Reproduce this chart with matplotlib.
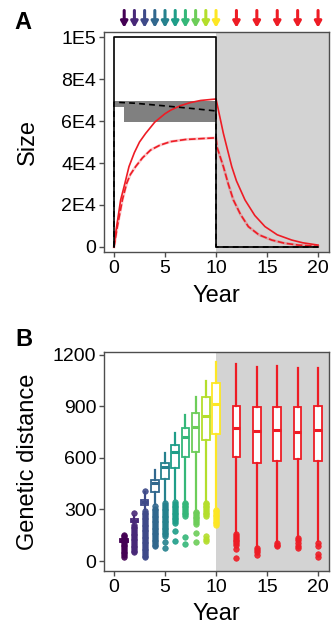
import matplotlib
matplotlib.use("Agg")
import matplotlib.pyplot as plt
import numpy as np

plt.rcParams['font.family'] = ['Liberation Sans', 'DejaVu Sans']

# ---------------- Panel A data ----------------
capacity_x = [0, 0, 10, 10, 20]
capacity_y = [0, 100000, 100000, 0, 0]

mean_x = [0, 0, 2, 5, 8, 10, 10, 20]
mean_y = [0, 69000, 68500, 67200, 65800, 64800, 0, 0]

band_x = [0.1, 1.0, 10.0]
band_lo = [66800, 59500, 59500]
band_hi = [69600, 69400, 69000]

red_solid_x = [0, 0.16, 0.65, 1.0, 1.47, 2.0, 2.5, 3.1, 4.0, 5.0, 5.56, 6.5, 7.5, 8.5, 10.0,
               10.72, 11.54, 12.0, 12.84, 13.8, 14.8, 16.0, 17.42, 18.5, 20.0]
red_solid_y = [0, 6500, 22400, 29000, 38300, 45000, 50000, 54100, 59500, 63500, 65200, 67300,
               68800, 69800, 70500,
               54100, 38300, 31500, 22400, 15000, 9700, 5800, 3300, 2000, 900]

red_dash_x = [0, 0.3, 0.82, 1.24, 1.6, 2.12, 2.8, 3.59, 4.5, 5.56, 7.0, 8.82, 10.0,
              10.1, 10.72, 11.2, 11.7, 12.4, 13.17, 14.2, 15.46, 16.7, 18.07, 20.0]
red_dash_y = [0, 9000, 22400, 30300, 34500, 38300, 42500, 46200, 48500, 50200, 51200, 51700, 52000,
              47500, 38300, 30000, 22400, 15500, 9700, 5800, 3300, 1800, 900, 300]

sample_years = [1, 2, 3, 4, 5, 6, 7, 8, 9, 10, 12, 14, 16, 18, 20]
viridis10 = ['#440154', '#482878', '#3E4A89', '#31688E', '#26828E',
             '#1F9E89', '#35B779', '#6DCD59', '#B4DE2C', '#FDE725']
red = '#EE1C25'
sample_colors = viridis10 + [red] * 5

# ---------------- Panel B data ----------------
box_med = [118, 235, 343, 456, 546, 637, 724, 779, 845, 913, 773, 757, 763, 751, 763]
box_q1 = [110, 225, 328, 404, 476, 540, 604, 637, 705, 740, 604, 573, 584, 594, 584]
box_q3 = [126, 245, 358, 472, 573, 676, 773, 860, 953, 1039, 903, 895, 899, 899, 905]
box_lo = [95, 205, 305, 330, 350, 360, 355, 300, 336, 313, 165, 83, 112, 142, 116]
box_hi = [140, 265, 400, 530, 627, 747, 850, 957, 1049, 1161, 1147, 1128, 1136, 1124, 1124]
box_out = [
    [25, 35, 45, 55, 65, 75, 85, 95, 105, 115, 125, 135, 145, 152],
    [50, 60, 70, 80, 90, 100, 110, 120, 130, 140, 150, 160, 170, 180, 190, 200, 210, 282],
    [22, 32, 42, 52, 62, 72, 82, 92, 102, 112, 122, 132, 142, 152, 162, 172, 182, 192, 202,
     212, 222, 232, 242, 252, 262, 272, 282, 292, 410],
    [85, 95, 105, 115, 125, 135, 145, 155, 165, 175, 185, 195, 205, 215, 225, 235, 245, 255,
     265, 275, 285, 295, 305, 318],
    [75, 112, 145, 155, 165, 175, 185, 195, 205, 215, 225, 235, 245, 255, 265, 275, 285, 295,
     305, 315, 325, 338],
    [118, 172, 222, 232, 242, 252, 262, 272, 282, 292, 302, 312, 322, 332, 342],
    [97, 142, 262, 272, 282, 292, 302, 312, 322, 332, 340],
    [112, 165, 218, 228, 238, 248, 258, 268, 278, 285],
    [115, 130, 148, 262, 272, 282, 292, 302, 312, 322, 332, 340],
    [210, 220, 230, 240, 250, 260, 270, 280, 290, 298],
    [20, 70, 95, 105, 115, 125, 135, 145, 155],
    [35, 50, 65, 78],
    [85, 95, 105],
    [75, 90, 105, 120, 135],
    [25, 42, 90, 105],
]

tick_fs = 14
label_fs = 17
spine_col = '#4D4D4D'
shade_col = '#D3D3D3'
XLIM = (-0.98, 21.08)

fig = plt.figure(figsize=(3.31, 6.28), dpi=100)
axA = fig.add_axes([0.3142, 0.5987, 0.680, 0.3503])
axB = fig.add_axes([0.3142, 0.0908, 0.680, 0.3487])

# ---------------- Panel A ----------------
axA.axvspan(10, XLIM[1], color=shade_col, lw=0, zorder=0)
axA.fill_between(band_x, band_lo, band_hi, step='post', color='#808080', lw=0, zorder=1)
axA.plot(capacity_x, capacity_y, color='black', lw=1.2, zorder=3)
axA.plot(mean_x, mean_y, color='black', lw=1.2, ls=(0, (3.5, 2.5)), zorder=4)
axA.plot(red_dash_x, red_dash_y, color=red, lw=2.0, alpha=0.25, zorder=2)
axA.plot(red_dash_x, red_dash_y, color=red, lw=1.2, ls=(0, (4, 1.5)), zorder=2)
axA.plot(red_solid_x, red_solid_y, color=red, lw=1.2, zorder=2)

axA.set_xlim(*XLIM)
axA.set_ylim(-2400, 102400)
axA.set_yticks([0, 20000, 40000, 60000, 80000, 100000])
axA.set_yticklabels(['0', '2E4', '4E4', '6E4', '8E4', '1E5'])
axA.set_xticks([0, 5, 10, 15, 20])
axA.set_ylabel('Size', fontsize=label_fs)
axA.set_xlabel('Year', fontsize=label_fs)
axA.yaxis.set_label_coords(-0.338, 0.5)
axA.xaxis.set_label_coords(0.5, -0.2)

for yr, c in zip(sample_years, sample_colors):
    axA.annotate('', xy=(yr, 1.02), xytext=(yr, 1.098),
                 xycoords=('data', 'axes fraction'),
                 textcoords=('data', 'axes fraction'),
                 arrowprops=dict(arrowstyle='-|>,head_width=0.2,head_length=0.35',
                                 color=c, lw=2.2, shrinkA=0, shrinkB=0,
                                 mutation_scale=10),
                 annotation_clip=False)

# ---------------- Panel B ----------------
axB.axvspan(10, XLIM[1], color=shade_col, lw=0, zorder=0)
for i, (yr, c) in enumerate(zip(sample_years, sample_colors)):
    stats = [dict(med=box_med[i], q1=box_q1[i], q3=box_q3[i],
                  whislo=box_lo[i], whishi=box_hi[i], fliers=box_out[i])]
    axB.bxp(stats, positions=[yr], widths=0.75, patch_artist=True,
            showcaps=False, manage_ticks=False,
            boxprops=dict(facecolor='white', edgecolor=c, lw=1.3),
            medianprops=dict(color=c, lw=2.2),
            whiskerprops=dict(color=c, lw=1.6),
            flierprops=dict(marker='o', markersize=4.0, markerfacecolor=c,
                            markeredgecolor=c, markeredgewidth=0.5, alpha=0.9),
            zorder=3)

axB.set_xlim(*XLIM)
axB.set_ylim(-58, 1217)
axB.set_yticks([0, 300, 600, 900, 1200])
axB.set_xticks([0, 5, 10, 15, 20])
axB.set_ylabel('Genetic distance', fontsize=label_fs)
axB.set_xlabel('Year', fontsize=label_fs)
axB.yaxis.set_label_coords(-0.338, 0.5)
axB.xaxis.set_label_coords(0.5, -0.196)

for ax in (axA, axB):
    for s in ax.spines.values():
        s.set_color(spine_col)
        s.set_linewidth(1.0)
        s.set_zorder(10)
    ax.tick_params(axis='both', which='major', labelsize=tick_fs, length=3.5,
                   width=1.0, color=spine_col, labelcolor='black', pad=2)
    ax.xaxis.label.set_va('center')
    ax.yaxis.label.set_va('center')

fig.text(23 / 331, 1 - 22.5 / 628, 'A', fontsize=17, fontweight='bold', ha='center', va='center')
fig.text(23.5 / 331, 1 - 340 / 628, 'B', fontsize=17, fontweight='bold', ha='center', va='center')

fig.savefig('out.png', dpi=100)
